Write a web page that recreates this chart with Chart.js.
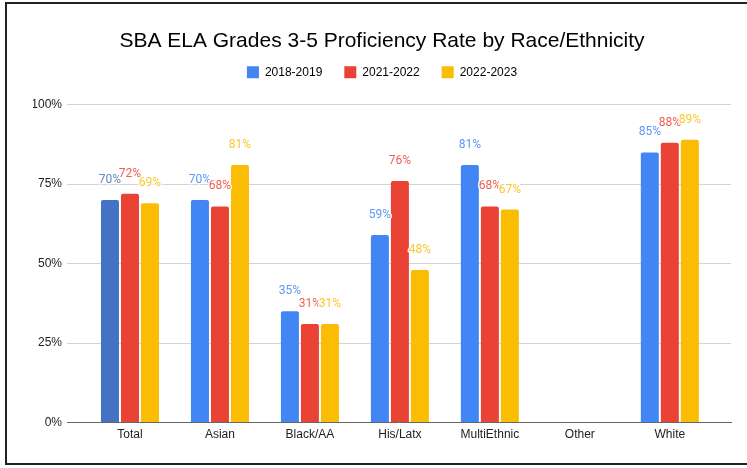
<!DOCTYPE html>
<html>
<head>
<meta charset="utf-8">
<script src="https://cdn.jsdelivr.net/npm/chart.js@4/dist/chart.umd.min.js"></script>
<style>
  html, body { margin: 0; padding: 0; background: #fff; }
  #wrap { position: relative; width: 747px; height: 468px; overflow: hidden; }
  #frame {
    position: absolute; left: 5px; top: 2px; width: 760px; height: 463px;
    border: 2px solid #222; border-right: none; box-sizing: border-box;
    pointer-events: none;
  }
</style>
</head>
<body>
<div id="wrap">
  <canvas id="chart" width="747" height="468"></canvas>
  <div id="frame"></div>
</div>
<script>
// chart values
const categories = ['Total', 'Asian', 'Black/AA', 'His/Latx', 'MultiEthnic', 'Other', 'White'];
const seriesNames = ['2018-2019', '2021-2022', '2022-2023'];
const rate1819 = [70, 70, 35, 59, 81, null, 85];
const rate2122 = [72, 68, 31, 76, 68, null, 88];
const rate2223 = [69, 81, 31, 48, 67, null, 89];
const yTicks = [0, 25, 50, 75, 100];

const colors = ['#4285F4', '#EA4335', '#FBBC04'];
const totalBlue = '#4472C4';

function toPoints(values) {
    return values.map((v, i) => ({ x: i, y: v }));
}

// draws "NN%" above every bar, like the sheets chart does
const barLabels = {
    id: 'barLabels',
    afterDatasetsDraw(chart) {
        const ctx = chart.ctx;
        ctx.save();
        ctx.font = '12px Roboto, "Liberation Sans", sans-serif';
        ctx.textAlign = 'center';
        ctx.textBaseline = 'middle';
        ctx.lineJoin = 'round';
        chart.data.datasets.forEach((ds, di) => {
            const meta = chart.getDatasetMeta(di);
            meta.data.forEach((bar, i) => {
                const v = ds.data[i].y;
                if (v === null || v === undefined) return;
                const txt = v + '%';
                const col = Array.isArray(ds.backgroundColor) ? ds.backgroundColor[i] : ds.backgroundColor;
                ctx.strokeStyle = 'rgba(255,255,255,0.9)';
                ctx.lineWidth = 3;
                ctx.strokeText(txt, bar.x, bar.y - 20);
                ctx.fillStyle = col;
                ctx.globalAlpha = 0.85;
                ctx.fillText(txt, bar.x, bar.y - 20);
                ctx.globalAlpha = 1;
            });
        });
        ctx.restore();
    }
};

// extra room under the legend
const legendGap = {
    id: 'legendGap',
    beforeInit(chart) {
        const fit = chart.legend.fit;
        chart.legend.fit = function () {
            fit.bind(chart.legend)();
            this.height += 16.5;
        };
    }
};

new Chart(document.getElementById('chart'), {
    type: 'bar',
    data: {
        datasets: [
            {
                label: seriesNames[0],
                data: toPoints(rate1819),
                backgroundColor: categories.map((_, i) => i === 0 ? totalBlue : colors[0])
            },
            { label: seriesNames[1], data: toPoints(rate2122), backgroundColor: colors[1] },
            { label: seriesNames[2], data: toPoints(rate2223), backgroundColor: colors[2] }
        ]
    },
    options: {
        responsive: false,
        animation: false,
        categoryPercentage: 0.667,
        barPercentage: 0.9,
        borderRadius: 2,
        layout: { padding: { left: 33, right: 16, top: 0, bottom: 21 } },
        plugins: {
            title: {
                display: true,
                text: 'SBA ELA Grades 3-5 Proficiency Rate by Race/Ethnicity',
                color: '#000',
                font: { family: '"Liberation Sans", Arial, sans-serif', size: 21, weight: 'normal' },
                padding: { top: 29, bottom: -10 }
            },
            legend: {
                position: 'top',
                labels: {
                    color: '#222',
                    font: { family: '"Liberation Sans", Arial, sans-serif', size: 12 },
                    boxWidth: 12,
                    boxHeight: 12,
                    padding: 22,
                    generateLabels(chart) {
                        return seriesNames.map((n, i) => ({
                            text: n, fillStyle: colors[i], strokeStyle: colors[i],
                            lineWidth: 0, datasetIndex: i, hidden: false
                        }));
                    }
                }
            },
            tooltip: { enabled: false }
        },
        scales: {
            x: {
                type: 'linear',
                offset: false,
                min: -0.7,
                max: 6.68,
                grid: { display: false, drawTicks: false, offset: false },
                border: { display: true, color: '#666', width: 1 },
                ticks: {
                    stepSize: 1,
                    includeBounds: false,
                    autoSkip: false,
                    maxRotation: 0,
                    padding: 5,
                    color: '#222',
                    font: { family: '"Liberation Sans", Arial, sans-serif', size: 12 },
                    callback: v => Number.isInteger(v) ? categories[v] : ''
                }
            },
            y: {
                min: 0,
                max: 100,
                afterBuildTicks(scale) { scale.ticks = yTicks.map(v => ({ value: v })); },
                afterFit(scale) { scale.width = 34; },
                grid: {
                    drawTicks: false,
                    color: ctx => ctx.tick && ctx.tick.value === 0 ? 'rgba(0,0,0,0)' : '#d4d4d4'
                },
                border: { display: false },
                ticks: {
                    padding: 5,
                    color: '#222',
                    font: { family: '"Liberation Sans", Arial, sans-serif', size: 12 },
                    callback: v => v + '%'
                }
            }
        }
    },
    plugins: [barLabels, legendGap]
});
</script>
</body>
</html>
